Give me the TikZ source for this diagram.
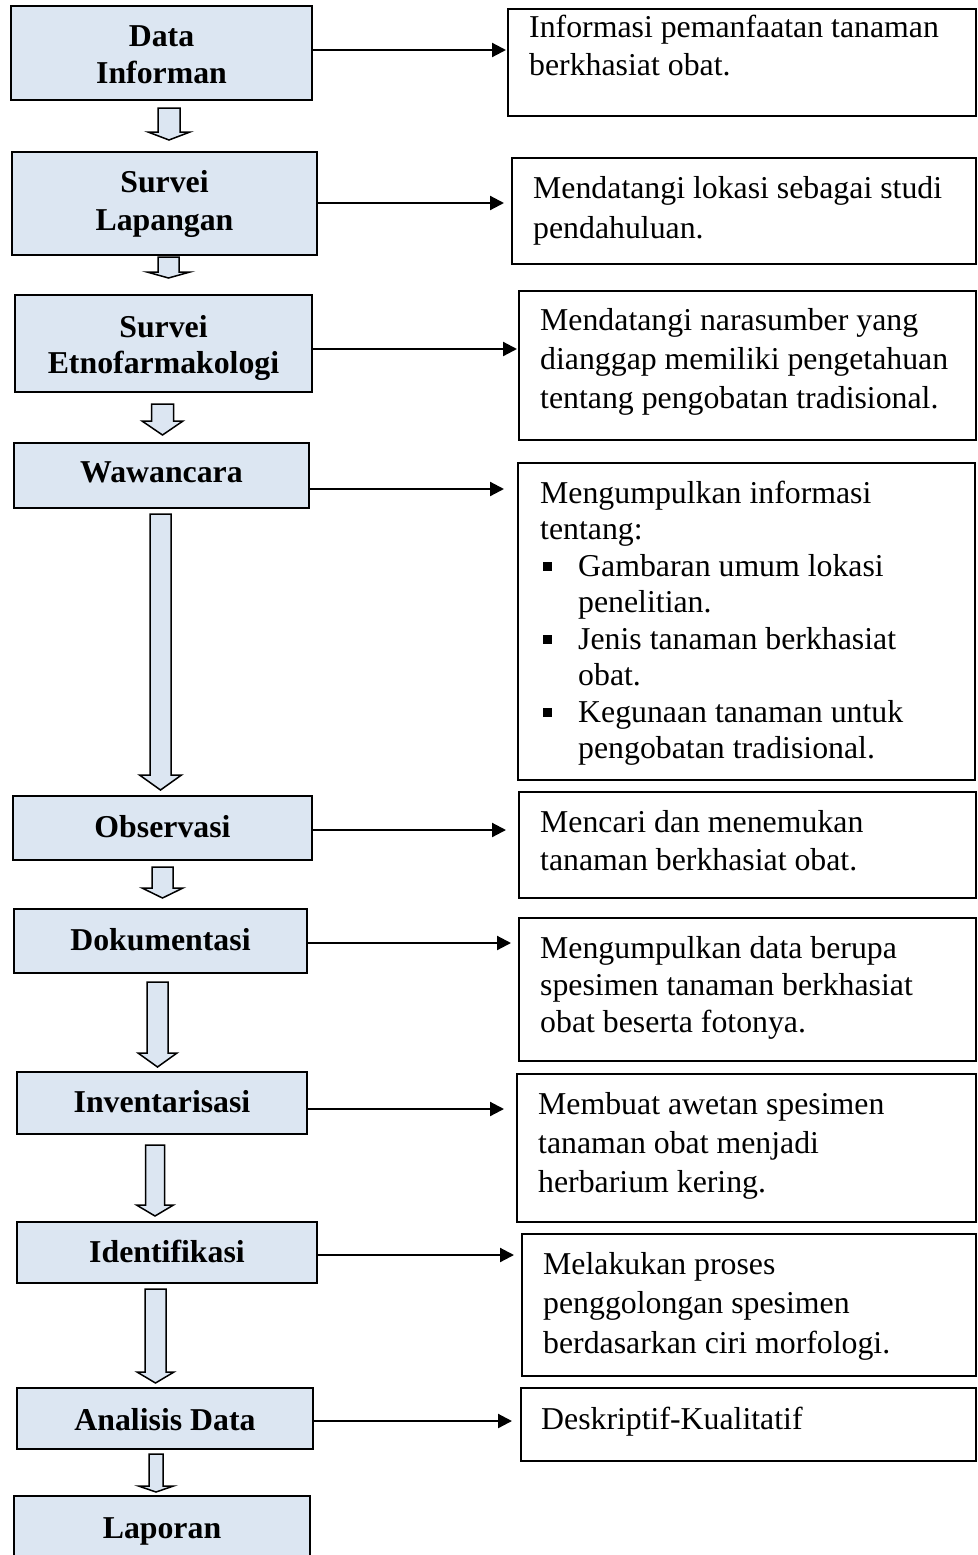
\documentclass[tikz,border=0pt]{standalone}
\usepackage{fontspec}
\setmainfont{Liberation Serif}
\usetikzlibrary{arrows.meta,fit}
\definecolor{boxblue}{HTML}{DCE6F2}
\newcommand{\bul}{\makebox[38pt][l]{\hspace{3pt}\rule[5.5pt]{9pt}{9pt}}}
\newcommand{\ind}{\hspace*{38pt}}
\newcommand{\blockarrow}[6]{% cx, shaft half width, head half width, top, head start, tip
  \draw[barrow] ({#1-#2},#4) -- ({#1+#2},#4) -- ({#1+#2},#5) -- ({#1+#3},#5) -- (#1,#6)
    -- ({#1-#3},#5) -- ({#1-#2},#5) -- cycle;}
\begin{document}
\begin{tikzpicture}[x=1pt,y=-1pt,
  lbox/.style={draw, line width=2pt, fill=boxblue, inner sep=0pt},
  rbox/.style={draw, line width=2pt, inner sep=0pt},
  ltext/.style={anchor=base, align=center, inner sep=0pt, font=\fontsize{31.8}{#1}\selectfont\bfseries},
  ltext/.default=36,
  rtext/.style={anchor=base west, align=left, inner sep=0pt, font=\fontsize{31.8}{#1}\selectfont},
  rtext/.default=38,
  harrow/.style={line width=2.2pt, -{Triangle[length=14pt,width=14pt]}},
  barrow/.style={draw, line width=1.5pt, fill=boxblue, line join=miter}]
\useasboundingbox (0,0) rectangle (977,1555);

% left boxes
\node[lbox, fit={(11,6) (312,100)}] (l1) {};
\node[lbox, fit={(12,152) (317,255)}] (l2) {};
\node[lbox, fit={(15,295) (312,392)}] (l3) {};
\node[lbox, fit={(14,443) (309,508)}] (l4) {};
\node[lbox, fit={(13,796) (312,860)}] (l5) {};
\node[lbox, fit={(14,909) (307,973)}] (l6) {};
\node[lbox, fit={(17,1072) (307,1134)}] (l7) {};
\node[lbox, fit={(17,1222) (317,1283)}] (l8) {};
\node[lbox, fit={(17,1388) (313,1449)}] (l9) {};
\node[lbox, fit={(14,1496) (310,1575)}] (l10) {};

% (multi-line texts are anchored at the baseline of their last line)
\node[ltext] (lt1) at (161.5,83) {Data\\Informan};
\node[ltext=38] (lt2) at (164.5,230) {Survei\\Lapangan};
\node[ltext] (lt3) at (163.5,373) {Survei\\Etnofarmakologi};
\node[ltext] (lt4) at (161.5,482) {Wawancara};
\node[ltext] (lt5) at (162.5,837) {Observasi};
\node[ltext] (lt6) at (160.5,950) {Dokumentasi};
\node[ltext] (lt7) at (162,1112) {Inventarisasi};
\node[ltext] (lt8) at (167,1262) {Identifikasi};
\node[ltext] (lt9) at (165,1430) {Analisis Data};
\node[ltext] (lt10) at (162,1538) {Laporan};

% right boxes
\node[rbox, fit={(508,9) (976,116)}] (r1) {};
\node[rbox, fit={(512,158) (976,264)}] (r2) {};
\node[rbox, fit={(519,291) (976,440)}] (r3) {};
\node[rbox, fit={(518,463) (975,780)}] (r4) {};
\node[rbox, fit={(519,792) (976,898)}] (r5) {};
\node[rbox, fit={(519,918) (976,1061)}] (r6) {};
\node[rbox, fit={(517,1074) (976,1222)}] (r7) {};
\node[rbox, fit={(522,1234) (976,1376)}] (r8) {};
\node[rbox, fit={(521,1388) (976,1461)}] (r9) {};

\node[rtext] (t1) at (529,75) {Informasi pemanfaatan tanaman\\berkhasiat obat.};
\node[rtext=40] (t2) at (533,238) {Mendatangi lokasi sebagai studi\\pendahuluan.};
\node[rtext=39] (t3) at (540,408) {Mendatangi narasumber yang\\dianggap memiliki pengetahuan\\tentang pengobatan tradisional.};
\node[rtext=36.5] (t4) at (540,758.5) {Mengumpulkan informasi\\tentang:\\
  \bul Gambaran umum lokasi\\\ind penelitian.\\
  \bul Jenis tanaman berkhasiat\\\ind obat.\\
  \bul Kegunaan tanaman untuk\\\ind pengobatan tradisional.};
\node[rtext] (t5) at (540,870) {Mencari dan menemukan\\tanaman berkhasiat obat.};
\node[rtext=37] (t6) at (540,1032) {Mengumpulkan data berupa\\spesimen tanaman berkhasiat\\obat beserta fotonya.};
\node[rtext=39] (t7) at (538,1192) {Membuat awetan spesimen\\tanaman obat menjadi\\herbarium kering.};
\node[rtext=39.5] (t8) at (543,1353) {Melakukan proses\\penggolongan spesimen\\berdasarkan ciri morfologi.};
\node[rtext] (t9) at (541,1429) {Deskriptif-Kualitatif};

% horizontal arrows
\coordinate (a1) at (0,50);
\coordinate (a2) at (0,203);
\coordinate (a3) at (0,349);
\coordinate (a4) at (0,489);
\coordinate (a5) at (0,830);
\coordinate (a6) at (0,943);
\coordinate (a7) at (0,1109);
\coordinate (a8) at (0,1255);
\coordinate (a9) at (0,1421);
\draw[harrow, shorten >=1pt] (l1.east |- a1) -- (r1.west |- a1);
\draw[harrow, shorten >=7pt] (l2.east |- a2) -- (r2.west |- a2);
\draw[harrow, shorten >=1pt] (l3.east |- a3) -- (r3.west |- a3);
\draw[harrow, shorten >=13pt] (l4.east |- a4) -- (r4.west |- a4);
\draw[harrow, shorten >=12pt] (l5.east |- a5) -- (r5.west |- a5);
\draw[harrow, shorten >=7pt] (l6.east |- a6) -- (r6.west |- a6);
\draw[harrow, shorten >=12pt] (l7.east |- a7) -- (r7.west |- a7);
\draw[harrow, shorten >=7pt] (l8.east |- a8) -- (r8.west |- a8);
\draw[harrow, shorten >=8pt] (l9.east |- a9) -- (r9.west |- a9);

% block arrows
\blockarrow{169}{11}{21}{108}{132}{140}
\blockarrow{168.5}{10.5}{21.5}{257}{272}{278}
\blockarrow{162.5}{11}{20.5}{404}{421}{435}
\blockarrow{160.5}{10.5}{21}{514}{775}{790}
\blockarrow{162.5}{10.5}{20.5}{867}{888}{898}
\blockarrow{157.5}{10.5}{19.5}{982}{1053}{1067}
\blockarrow{155}{9.5}{18.5}{1145}{1205}{1216}
\blockarrow{155.5}{10.5}{18.5}{1289}{1372}{1383}
\blockarrow{156}{7}{17.5}{1454}{1486}{1492}
\end{tikzpicture}
\end{document}
